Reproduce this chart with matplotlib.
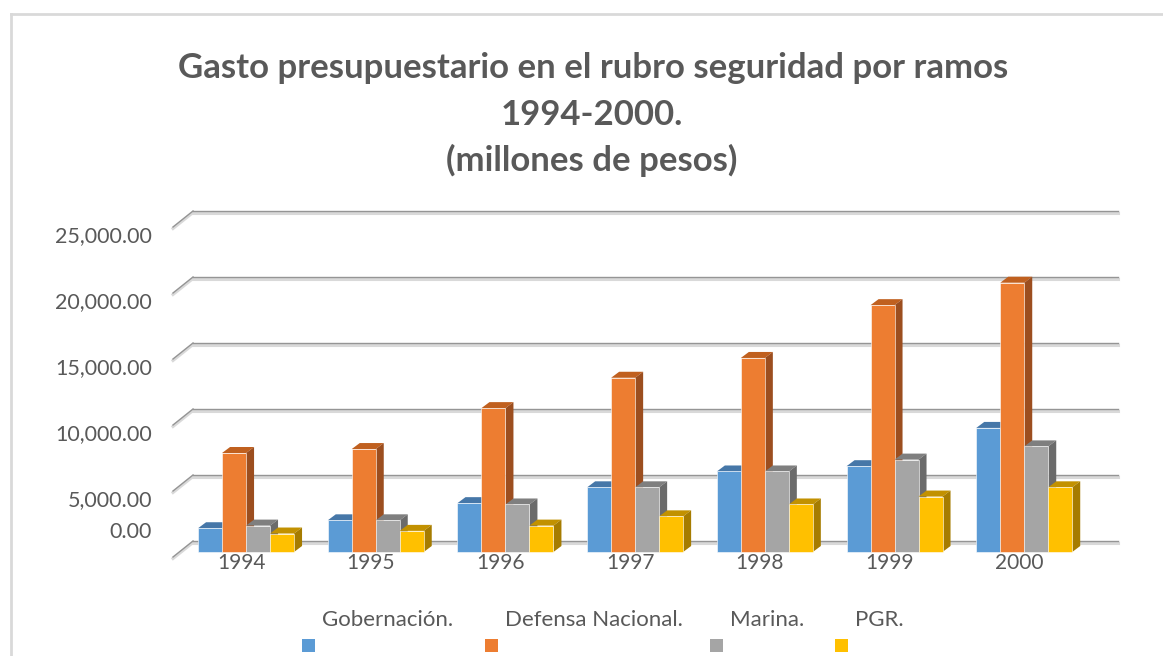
import numpy as np
import matplotlib.pyplot as plt
from matplotlib.patches import Polygon, Rectangle

years = ["1994", "1995", "1996", "1997", "1998", "1999", "2000"]
series_names = ["Gobernación.", "Defensa Nacional.", "Marina.", "PGR."]
gobernacion = [1800, 2400, 3700, 4900, 6100, 6500, 9400]
defensa = [7500, 7800, 10900, 13200, 14700, 18700, 20400]
marina = [2000, 2400, 3600, 4900, 6100, 7000, 8000]
pgr = [1400, 1600, 2000, 2700, 3600, 4200, 4900]
y_ticks = [0, 5000, 10000, 15000, 20000, 25000]

front_colors = ["#5B9BD5", "#ED7D31", "#A5A5A5", "#FFC000"]
top_colors = ["#4677a8", "#c0601f", "#7f7f7f", "#c29100"]
side_colors = ["#3d6a94", "#9c4e1f", "#6b6b6b", "#a67c00"]
text_color = "#595959"

plt.rcParams["font.family"] = ["Lato", "DejaVu Sans"]

W, H = 1163, 656
fig = plt.figure(figsize=(W / 100, H / 100), dpi=100)


def fx(px):
    return px / W


def fy(py):
    return 1 - py / H


# border of the chart area (top and left only are visible)
fig.add_artist(plt.Line2D([fx(11), fx(11)], [fy(14), 0], color="#d9d9d9", lw=2))
fig.add_artist(plt.Line2D([fx(11), 1], [fy(14), fy(14)], color="#d9d9d9", lw=2))

# axes = the front plane of the bars
ax = fig.add_axes([fx(179), fy(552), (1104 - 179) / W, (552 - 222) / H])
ax.set_xlim(-0.517, 6.615)
ax.set_ylim(0, 25000)
ax.axis("off")

fig.canvas.draw()
bbox = ax.get_window_extent()
sx = bbox.width / (ax.get_xlim()[1] - ax.get_xlim()[0])
sy = bbox.height / (ax.get_ylim()[1] - ax.get_ylim()[0])
x_left, x_right = ax.get_xlim()

# back wall gridlines + side wall diagonals
for v in y_ticks:
    yb = v + 11 / sy
    ax.plot([x_left + 14 / sx, x_right + 14 / sx], [yb - 1.5 / sy] * 2,
            color="#d9d9d9", lw=2.2, zorder=1, clip_on=False)
    ax.plot([x_left + 14 / sx, x_right + 14 / sx], [yb, yb],
            color="#959595", lw=1.0, zorder=2, clip_on=False)
    ax.plot([x_left - 6 / sx, x_left + 14 / sx], [v - 5 / sy - 1.5 / sy, yb - 1.5 / sy],
            color="#d9d9d9", lw=2.2, zorder=1, clip_on=False)
    ax.plot([x_left - 6 / sx, x_left + 14 / sx], [v - 5 / sy, yb],
            color="#959595", lw=1.0, zorder=2, clip_on=False)
    shift = 20 if v == 0 else -14
    ax.text(x_left - 27 / sx, v + shift / sy, f"{v:,.2f}", ha="right", va="center",
            fontsize=15.5, color=text_color, clip_on=False)

# bars with a little depth
values = [gobernacion, defensa, marina, pgr]
x = np.arange(len(years))
bw = 0.185
dx, dy = 8 / sx, 6 / sy
for k, vals in enumerate(values):
    pos = x + (k - 1.5) * bw
    bars = ax.bar(pos, vals, width=bw, color=front_colors[k],
                  edgecolor="#ffffff", linewidth=0.4, clip_on=False)
    for i, rect in enumerate(bars):
        base = 10 + i * 10 + k * 2
        rect.set_zorder(base + 1)
        x0 = rect.get_x()
        x1 = x0 + rect.get_width()
        h = rect.get_height()
        ax.add_patch(Polygon([(x0, h), (x1, h), (x1 + dx, h + dy), (x0 + dx, h + dy)],
                             closed=True, facecolor=top_colors[k], edgecolor="none",
                             zorder=base, clip_on=False))
        ax.add_patch(Polygon([(x1, 0), (x1, h), (x1 + dx, h + dy), (x1 + dx, dy)],
                             closed=True, facecolor=side_colors[k], edgecolor="none",
                             zorder=base, clip_on=False))

for i, yr in enumerate(years):
    ax.text(x[i] - 5 / sx, -11 / sy, yr, ha="center", va="center",
            fontsize=15, color=text_color, clip_on=False)

# title
title_size = 25
fig.text(fx(593), fy(68), "Gasto presupuestario en el rubro seguridad por ramos",
         ha="center", va="center", fontsize=title_size, fontweight="bold", color=text_color)
fig.text(fx(592), fy(115), "1994-2000.", ha="center", va="center",
         fontsize=title_size, fontweight="bold", color=text_color)
fig.text(fx(592), fy(160), "(millones de pesos)", ha="center", va="center",
         fontsize=title_size, fontweight="bold", color=text_color)

# legend: names above, swatches below
legend_x = [302, 485, 710, 835]
for name, col, lx in zip(series_names, front_colors, legend_x):
    fig.text(fx(lx + 20), fy(620), name, ha="left", va="center",
             fontsize=16, color=text_color)
    fig.add_artist(Rectangle((fx(lx), fy(652)), 13 / W, 13 / H,
                             facecolor=col, edgecolor="none"))

fig.savefig("out.png", dpi=100)
